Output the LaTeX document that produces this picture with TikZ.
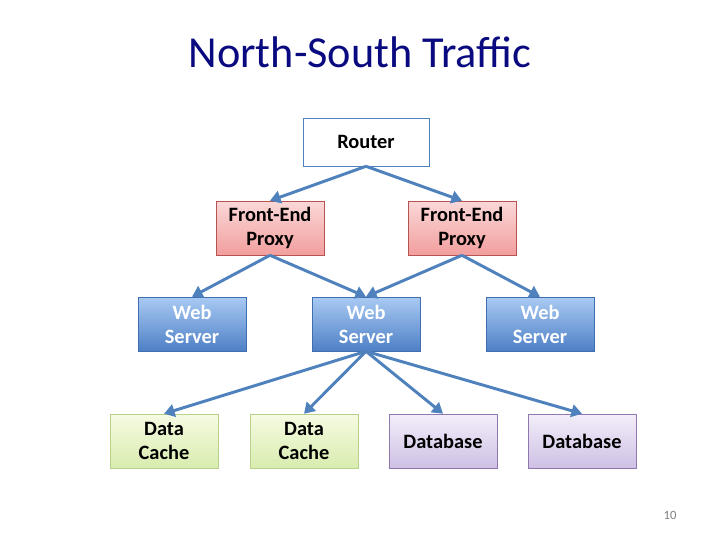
\documentclass[tikz,border=0pt]{standalone}
\usepackage{fontspec}
\setmainfont{Carlito}
\usetikzlibrary{arrows.meta}

\definecolor{titleblue}{HTML}{0A0A80}
\definecolor{linkblue}{HTML}{4F81BD}
\definecolor{proxyedge}{HTML}{B85450}
\definecolor{proxytop}{HTML}{FBD8D8}
\definecolor{proxybot}{HTML}{F29E9E}
\definecolor{webedge}{HTML}{3F6FAE}
\definecolor{webtop}{HTML}{A9CAF3}
\definecolor{webbot}{HTML}{4E80C6}
\definecolor{cacheedge}{HTML}{B9D08A}
\definecolor{cachetop}{HTML}{F6FBE3}
\definecolor{cachebot}{HTML}{D8ECAE}
\definecolor{dbedge}{HTML}{8E78AE}
\definecolor{dbtop}{HTML}{F3EEF9}
\definecolor{dbbot}{HTML}{CEC0E5}

\tikzset{
  box/.style={rectangle, minimum width=2.7cm, minimum height=1.35cm, inner sep=1pt,
    align=center, font=\fontsize{14.5}{17}\selectfont\bfseries},
  proxybox/.style={box, draw=proxyedge, top color=proxytop, bottom color=proxybot},
  webbox/.style={box, draw=webedge, text=white, top color=webtop, bottom color=webbot},
  cachebox/.style={box, draw=cacheedge, top color=cachetop, bottom color=cachebot},
  dbbox/.style={box, draw=dbedge, top color=dbtop, bottom color=dbbot},
  link/.style={draw=linkblue, line width=2.1pt, -{Triangle[length=7.5pt,width=9pt]}}
}

\begin{document}
\begin{tikzpicture}
    \useasboundingbox (0,0) rectangle (18,-13.5);

    % Titel
    \node[text=titleblue, font=\fontsize{31.5}{36}\selectfont] (title) at (9,-1.3) {North-South Traffic};

    % Knoten
    \node[box, draw=linkblue, fill=white, minimum width=3.15cm, minimum height=1.2cm] (router) at (9.15,-3.55) {Router};
    \node[proxybox] (proxyL) at (6.75,-5.7) {Front-End\\Proxy};
    \node[proxybox] (proxyR) at (11.55,-5.7) {Front-End\\Proxy};
    \node[webbox] (webL) at (4.8,-8.1) {Web\\Server};
    \node[webbox] (webM) at (9.15,-8.1) {Web\\Server};
    \node[webbox] (webR) at (13.5,-8.1) {Web\\Server};
    \node[cachebox] (cacheL) at (4.1,-11.025) {Data\\Cache};
    \node[cachebox] (cacheM) at (7.6,-11.025) {Data\\Cache};
    \node[dbbox] (dbL) at (11.075,-11.025) {Database};
    \node[dbbox] (dbR) at (14.55,-11.025) {Database};

    % Pfeile
    \draw[link] (router.south) -- (proxyL.north);
    \draw[link] (router.south) -- (proxyR.north);
    \draw[link] (proxyL.south) -- (webL.north);
    \draw[link] (proxyL.south) -- (webM.north);
    \draw[link] (proxyR.south) -- (webM.north);
    \draw[link] (proxyR.south) -- (webR.north);
    \foreach \t in {cacheL, cacheM, dbL, dbR}
        \draw[link] (webM.south) -- (\t.north);

    \node[text=gray, font=\fontsize{9}{11}\selectfont] (page) at (16.75,-12.875) {10};
\end{tikzpicture}
\end{document}
